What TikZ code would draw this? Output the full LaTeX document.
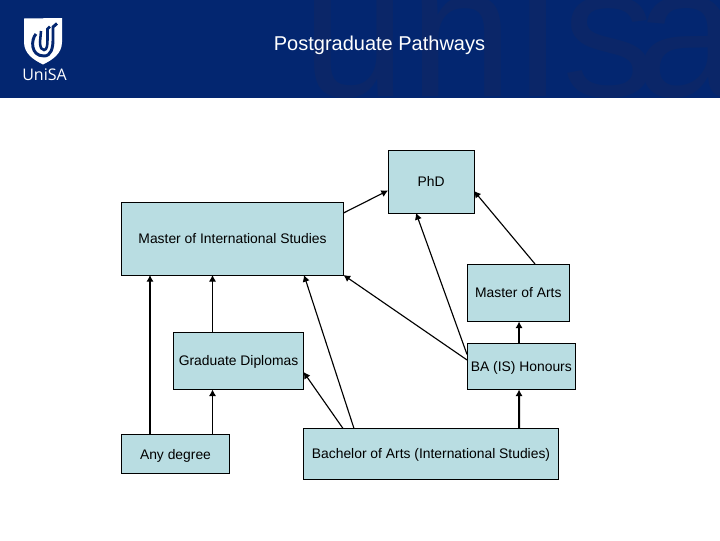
\documentclass[tikz,border=0pt]{standalone}
\usepackage{xcolor}
\usepackage{fontspec}
\setmainfont{Liberation Sans}
\newfontfamily\logofont{Open Sans}
\usetikzlibrary{arrows.meta,positioning}
\definecolor{bandblue}{RGB}{3,38,112}
\definecolor{markblue}{RGB}{11,38,104}
\definecolor{boxfill}{RGB}{185,221,226}

\begin{document}
\begin{tikzpicture}[
  x=0.75pt, y=-0.75pt,
  box/.style={draw, line width=0.75pt, fill=boxfill, inner sep=0pt, outer sep=0pt, text height=7.5pt, text depth=0pt, font=\fontsize{10.4}{12}\selectfont},
  arr/.style={-{Latex[length=5pt,width=5.5pt]}, line width=0.85pt},
  arrthick/.style={arr, line width=1.5pt}
]
\useasboundingbox (0,0) rectangle (720,540);
\fill[bandblue] (0,0) rectangle (720,98);
\begin{scope}
\clip (0,0) rectangle (720,98);
\node[inner sep=0pt, anchor=base west, text=markblue, font=\addfontfeature{LetterSpace=2}\fontsize{140}{140}\selectfont] (mark) at (302,96) {unis\kern-15pt a};
\end{scope}
% logo
\fill[white] (24,18.5) -- (62,18) -- (62,42) .. controls (62,54) and (52,60) .. (43,64.5) .. controls (34,60) and (24,54) .. (24,42) -- cycle;
\draw[bandblue, line width=2.2pt] (36,34) .. controls (31,39) and (30,56) .. (44,56) .. controls (51,56) and (53,48) .. (53,40) -- (53,27) -- (57,23.5);
\draw[bandblue, line width=1.9pt] (41,31) -- (40,42) .. controls (40,48) and (42,50) .. (44,50) .. controls (47,50) and (47.5,45) .. (47.5,40) -- (47.5,29) -- (50,26.5);
\node[text=white, inner sep=0pt, font=\logofont\fontsize{12}{14}\selectfont] (logo) at (44.5,75) {UniSA};
\node[text=white, inner sep=0pt, font=\fontsize{15}{18}\selectfont] (title) at (379.5,45.5) {Postgraduate Pathways};

\node[box, minimum width=166.5pt, minimum height=54.75pt, anchor=north west] (mis) at (121.5,202) {Master of International Studies};
\node[box, minimum width=64.5pt, minimum height=47.25pt, above right=-8.25pt and 33.4pt of mis.north east] (phd) {PhD};
\node[box, minimum width=76.9pt, minimum height=43.1pt, below right=38.25pt and -5.25pt of phd.south east] (ma) {Master of Arts};
\node[box, minimum width=81.4pt, minimum height=34.5pt, below right=16.5pt and 0pt of ma.south west] (hons) {BA (IS) Honours};
\node[box, minimum width=97.5pt, minimum height=42.75pt, below right=43.1pt and 39pt of mis.south west] (gd) {Graduate Diplomas};
\node[box, minimum width=81pt, minimum height=29.6pt, below right=119.6pt and 0pt of mis.south west] (any) {Any degree};
\node[box, minimum width=191.25pt, minimum height=38.25pt, below right=29.25pt and 0pt of gd.south east] (boa) {Bachelor of Arts (International Studies)};

\draw[arr] ([shift={(0,11)}]mis.north east) -- ([shift={(0,9)}]phd.west);
\draw[arr] ([shift={(16.75,0)}]ma.north) -- ([shift={(0,9.5)}]phd.east);
\draw[arr] ([shift={(0,11)}]hons.north west) -- ([shift={(-15,0)}]phd.south);
\draw[arr] ([shift={(0,-6.5)}]hons.west) -- (mis.south east);
\draw[arr] ([shift={(50.5,0)}]boa.north west) -- ([shift={(-39.5,0)}]mis.south east);
\draw[arr] ([shift={(39.5,0)}]boa.north west) -- ([shift={(0,11)}]gd.east);
\draw[arrthick] ([shift={(215.5,0)}]boa.north west) -- ([shift={(-2.25,0)}]hons.south);
\draw[arrthick] ([shift={(-2.25,0)}]hons.north) -- ([shift={(0.75,0)}]ma.south);
\draw[arrthick] ([shift={(28.5,0)}]any.north west) -- ([shift={(28.5,0)}]mis.south west);
\draw[arr] ([shift={(-17,0)}]any.north east) -- ([shift={(39,0)}]gd.south west);
\draw[arr] ([shift={(39,0)}]gd.north west) -- ([shift={(91,0)}]mis.south west);
\end{tikzpicture}
\end{document}
